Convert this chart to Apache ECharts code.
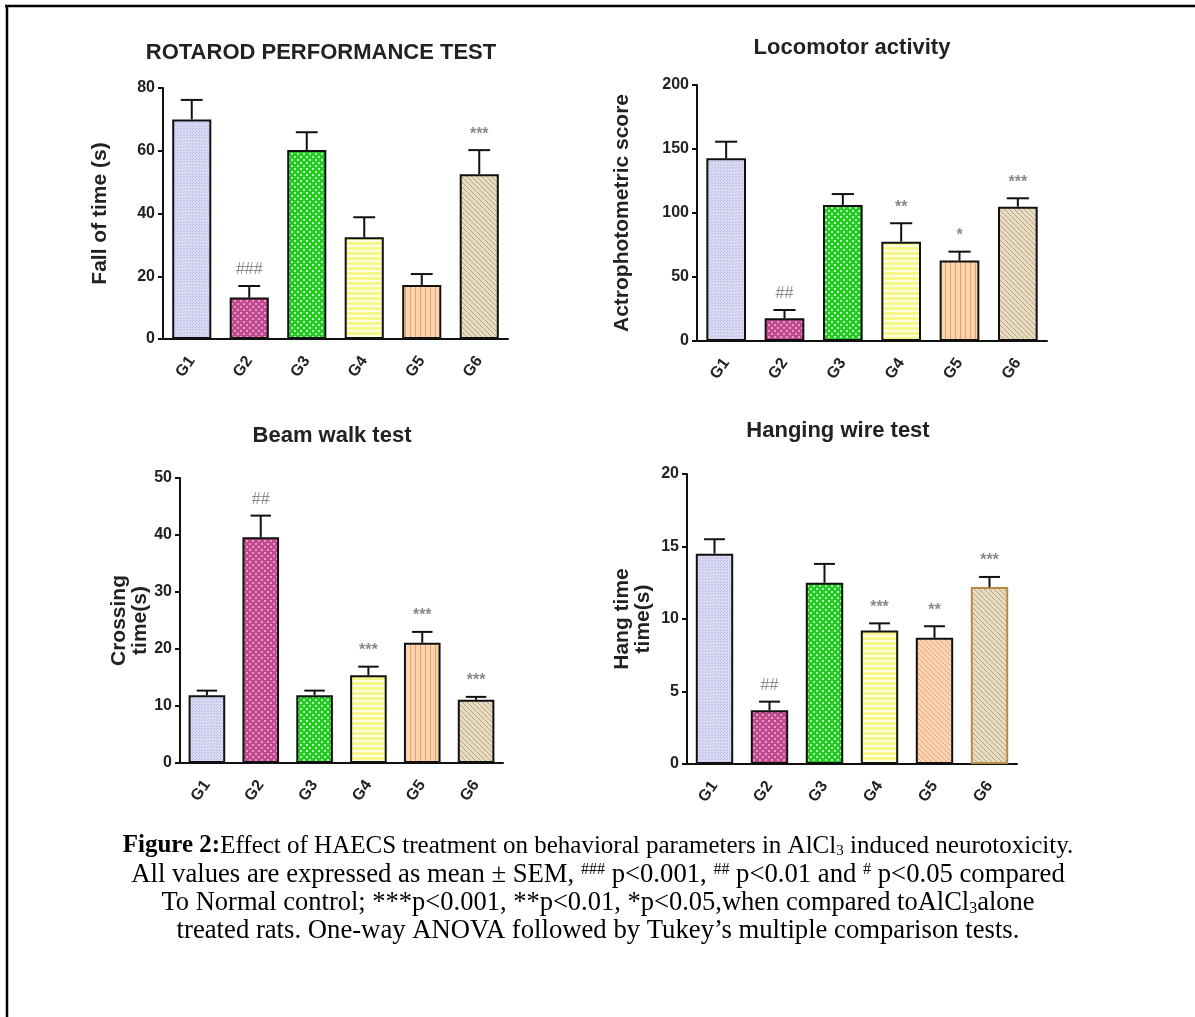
<!DOCTYPE html>
<html>
<head>
<meta charset="utf-8">
<title>Figure 2</title>
<script src="https://cdn.jsdelivr.net/npm/echarts@6/dist/echarts.min.js"></script>
<style>
  html, body { margin: 0; padding: 0; background: #fff; }
  #chart { width: 1195px; height: 1017px; }
</style>
</head>
<body>
<div id="chart"></div>
<script>
// groups on the x axis
const groups = ['G1', 'G2', 'G3', 'G4', 'G5', 'G6']

// rotarod (fall of time, s)
const rotarodMean = [70, 13.2, 60.2, 32.4, 17.2, 52.5]
const rotarodSem = [6.2, 3.7, 5.7, 6.4, 3.5, 7.7]
const rotarodMarks = ['', '###', '', '', '', '***']

// locomotor (actrophotometric score)
const locoMean = [142.7, 17.7, 106.3, 77.6, 62.8, 104.9]
const locoSem = [13, 6.5, 8.5, 14.4, 7, 6.6]
const locoMarks = ['', '##', '', '**', '*', '***']

// beam walk (crossing time, s)
const beamMean = [11.9, 39.6, 11.9, 15.4, 21.1, 11.1]
const beamSem = [0.8, 3.8, 0.8, 1.5, 1.9, 0.5]
const beamMarks = ['', '##', '', '***', '***', '***']

// hanging wire (hang time, s)
const wireMean = [14.5, 3.7, 12.5, 9.2, 8.7, 12.2]
const wireSem = [1.0, 0.6, 1.3, 0.5, 0.8, 0.7]
const wireMarks = ['', '##', '', '***', '**', '***']

// y axis ranges
const rotarodTicks = { max: 80, interval: 20 }
const locoTicks = { max: 200, interval: 50 }
const beamTicks = { max: 50, interval: 10 }
const wireTicks = { max: 20, interval: 5 }

// little canvas textures like the prism fills
function pattern (bg, fg, kind) {
  const c = document.createElement('canvas')
  const s = kind === 'check' ? 6 : (kind === 'fine' ? 3 : 5)
  c.width = s
  c.height = s
  const g = c.getContext('2d')
  g.fillStyle = bg
  g.fillRect(0, 0, s, s)
  g.fillStyle = fg
  g.strokeStyle = fg
  if (kind === 'fine') {
    g.fillRect(0, 0, 1, 1)
    g.fillRect(1, 2, 1, 1)
  } else if (kind === 'check') {
    g.fillRect(0, 0, 2, 2)
    g.fillRect(3, 3, 2, 2)
  } else if (kind === 'h') {
    g.fillRect(0, 0, s, 2)
  } else if (kind === 'v') {
    g.fillRect(0, 0, 1, s)
  } else if (kind === 'd') {
    g.lineWidth = 1
    g.beginPath()
    g.moveTo(-1, -1); g.lineTo(s + 1, s + 1)
    g.moveTo(-1, s - 1); g.lineTo(1, s + 1)
    g.moveTo(s - 1, -1); g.lineTo(s + 1, 1)
    g.stroke()
  }
  return { image: c, repeat: 'repeat' }
}

const fills = [
  pattern('#dadaf4', '#b9b9e2', 'fine'),
  pattern('#c04a8c', '#e59acb', 'check'),
  pattern('#22cc22', '#b4f4b4', 'check'),
  pattern('#f7f68a', '#fdfde0', 'h'),
  pattern('#fbd4b0', '#ec9c68', 'v'),
  pattern('#e8dcc4', '#b8a27c', 'd')
]
const wireFills = fills.slice()
wireFills[4] = pattern('#fbd6b6', '#e9a577', 'd')

const FONT = 'Liberation Sans'
const grids = [
  { left: 163, top: 88, width: 345, height: 251 },
  { left: 697, top: 85, width: 350, height: 256 },
  { left: 180, top: 478, width: 323, height: 285 },
  { left: 687, top: 474, width: 330, height: 290 }
]
const panels = [
  { mean: rotarodMean, sem: rotarodSem, marks: rotarodMarks, ticks: rotarodTicks, name: 'Fall of time (s)', gap: 52, fills: fills, borders: null },
  { mean: locoMean, sem: locoSem, marks: locoMarks, ticks: locoTicks, name: 'Actrophotometric score', gap: 64, fills: fills, borders: null },
  { mean: beamMean, sem: beamSem, marks: beamMarks, ticks: beamTicks, name: 'Crossing\ntime(s)', gap: 28, fills: fills, borders: null },
  { mean: wireMean, sem: wireSem, marks: wireMarks, ticks: wireTicks, name: 'Hang time\ntime(s)', gap: 33, fills: wireFills, borders: ['#111', '#111', '#111', '#111', '#111', '#b48c46'] }
]

const xAxis = []
const yAxis = []
const series = []
panels.forEach((p, i) => {
  xAxis.push({
    type: 'category',
    gridIndex: i,
    data: groups,
    axisLine: { lineStyle: { color: '#111', width: 2 } },
    axisTick: { alignWithLabel: true, length: 7, lineStyle: { color: '#111', width: 2 } },
    axisLabel: { rotate: 55, margin: 19, color: '#222', fontFamily: FONT, fontWeight: 'bold', fontSize: 16 }
  })
  yAxis.push({
    type: 'value',
    gridIndex: i,
    min: 0,
    max: p.ticks.max,
    interval: p.ticks.interval,
    name: p.name,
    nameLocation: 'middle',
    nameGap: p.gap,
    nameTextStyle: { color: '#222', fontFamily: FONT, fontWeight: 'bold', fontSize: 21, lineHeight: 21 },
    splitLine: { show: false },
    axisLine: { show: true, lineStyle: { color: '#111', width: 2 } },
    axisTick: { show: true, length: 5, lineStyle: { color: '#111', width: 2 } },
    axisLabel: { margin: 8, color: '#222', fontFamily: FONT, fontWeight: 'bold', fontSize: 16 }
  })
  series.push({
    type: 'bar',
    xAxisIndex: i,
    yAxisIndex: i,
    barWidth: '68%',
    data: p.mean.map((v, k) => ({
      value: v,
      itemStyle: {
        color: p.fills[k],
        borderColor: p.borders ? p.borders[k] : '#111',
        borderWidth: 2
      }
    })),
    z: 2
  })
  series.push({
    type: 'custom',
    xAxisIndex: i,
    yAxisIndex: i,
    z: 3,
    data: p.mean.map((v, k) => [k, v, p.sem[k]]),
    renderItem: (params, api) => {
      const k = api.value(0)
      const m = api.value(1)
      const s = api.value(2)
      const a = api.coord([k, m])
      const b = api.coord([k, m + s])
      const half = api.size([1, 0])[0] * 0.19
      const line = { stroke: '#111', lineWidth: 2 }
      const kids = [
        { type: 'line', shape: { x1: a[0], y1: a[1], x2: b[0], y2: b[1] }, style: line },
        { type: 'line', shape: { x1: b[0] - half, y1: b[1], x2: b[0] + half, y2: b[1] }, style: line }
      ]
      const mark = p.marks[params.dataIndex]
      if (mark) {
        kids.push({
          type: 'text',
          x: b[0],
          y: b[1] - 8,
          style: {
            text: mark,
            fill: '#8a8a8a',
            font: (mark[0] === '#' ? '' : 'bold ') + '16px ' + FONT,
            align: 'center',
            verticalAlign: 'bottom'
          }
        })
      }
      return { type: 'group', children: kids }
    }
  })
})

const titleStyle = { color: '#222', fontFamily: FONT, fontWeight: 'bold', fontSize: 22 }
const titles = [
  { text: 'ROTAROD PERFORMANCE TEST', left: 321, top: 42 },
  { text: 'Locomotor activity', left: 852, top: 37 },
  { text: 'Beam walk test', left: 332, top: 425 },
  { text: 'Hanging wire test', left: 838, top: 420 }
].map(t => Object.assign(t, { textAlign: 'center', padding: 0, textStyle: titleStyle }))

// caption below the panels
const serif = 'Liberation Serif'
const capLines = [
  '{b|Figure 2:}Effect of HAECS treatment on behavioral parameters in AlCl{sub|3} induced neurotoxicity.',
  'All values are expressed as mean ± SEM, {sup|###} p<0.001, {sup|##} p<0.01 and {sup|#} p<0.05 compared',
  'To Normal control; ***p<0.001, **p<0.01, *p<0.05,when compared toAlCl{sub|3}alone',
  'treated rats. One-way ANOVA followed by Tukey’s multiple comparison tests.'
]
const capY = [846, 875, 903, 931]
const capSize = [25, 26.7, 26.5, 26.7]

function capRich (size) {
  return {
    b: { fontFamily: serif, fontSize: size, fontWeight: 'bold', color: '#000' },
    sup: { fontFamily: serif, fontSize: size * 0.6, color: '#000', verticalAlign: 'top' },
    sub: { fontFamily: serif, fontSize: size * 0.6, color: '#000', verticalAlign: 'bottom' }
  }
}

const chart = echarts.init(document.getElementById('chart'), null, { renderer: 'canvas' })
chart.setOption({
  animation: false,
  backgroundColor: '#fff',
  title: titles,
  grid: grids,
  xAxis: xAxis,
  yAxis: yAxis,
  series: series,
  graphic: [
    { type: 'line', shape: { x1: 5, y1: 6, x2: 1195, y2: 6 }, style: { stroke: '#000', lineWidth: 2.5 } },
    { type: 'line', shape: { x1: 7, y1: 5, x2: 7, y2: 1017 }, style: { stroke: '#000', lineWidth: 2.5 } }
  ].concat(capLines.map((t, i) => ({
    type: 'text',
    x: 598,
    y: capY[i],
    style: {
      text: t,
      rich: capRich(capSize[i]),
      fontFamily: serif,
      fontSize: capSize[i],
      fill: '#000',
      align: 'center',
      verticalAlign: 'middle'
    }
  })))
})
</script>
</body>
</html>
